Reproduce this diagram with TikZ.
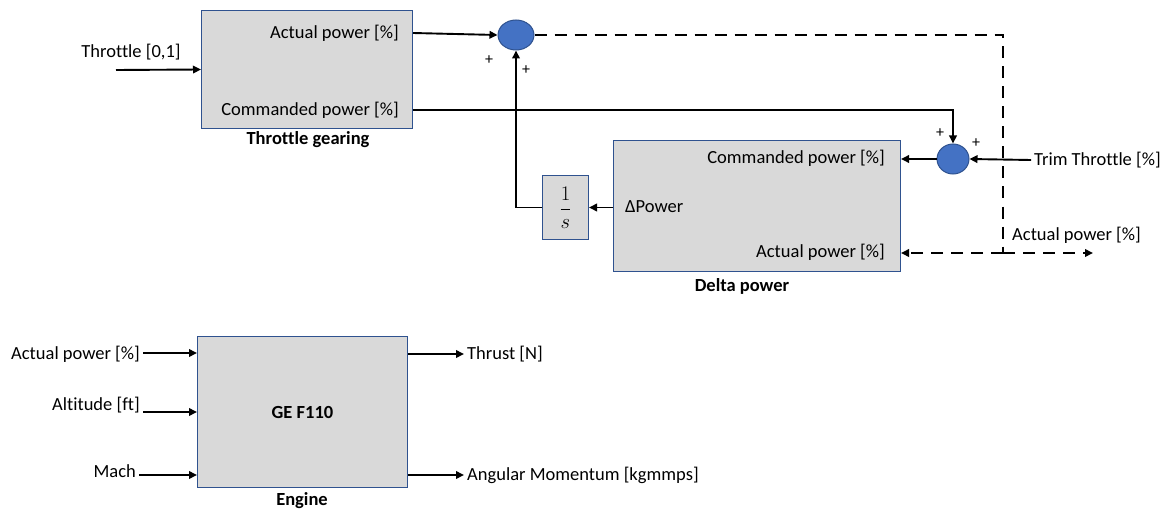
\documentclass[tikz,border=0pt]{standalone}
\usepackage{fontspec}
\setmainfont{Carlito}[Ligatures=NoCommon]
\usetikzlibrary{arrows.meta,shapes.geometric}
\definecolor{boxgray}{HTML}{D9D9D9}
\definecolor{boxedge}{HTML}{2F528F}
\definecolor{sumfill}{HTML}{4472C4}
\tikzset{
  blk/.style={draw=boxedge, fill=boxgray, line width=1pt, anchor=north west, inner sep=0pt},
  sumnode/.style={ellipse, draw=boxedge, fill=sumfill, line width=1pt, minimum width=36pt, minimum height=30pt, inner sep=0pt},
  lbl/.style={font=\fontsize{18.5}{22}\selectfont, inner sep=3pt},
  ttl/.style={font=\fontsize{18.5}{22}\selectfont\bfseries, inner sep=0pt},
  pls/.style={font=\fontsize{16}{18}\selectfont, inner sep=0pt},
  wire/.style={line width=1.9pt, -{Triangle[length=8pt,width=7.5pt]}},
  dwire/.style={line width=1.9pt, dash pattern=on 12pt off 8pt}
}
\begin{document}
\begin{tikzpicture}[x=1pt,y=-1pt]
\useasboundingbox (0,0) rectangle (1174,513);

% Throttle gearing block
\node[blk, minimum width=211pt, minimum height=118pt] (tg) at (201,10) {};
\node[lbl, anchor=east] (tgA) at (402,33) {Actual power [\%]};
\node[lbl, anchor=east] (tgC) at (402,110) {Commanded power [\%]};
\node[ttl] (tgT) at (308,140) {Throttle gearing};
\node[lbl] (thr) at (131,52) {Throttle [0,1]};
\coordinate (thrIn) at (116,70);
\draw[wire] (thrIn) -- (tg.west);

% Upper summing junction
\node[sumnode] (s1) at (516,35) {};
\node[pls] (p1) at (489,60) {+};
\node[pls] (p2) at (526,70) {+};
\draw[wire] (tg.east |- tgA) -- (s1.west);

% Delta power block
\node[blk, minimum width=287pt, minimum height=131pt] (dp) at (613,140) {};
\node[lbl, anchor=east] (dpC) at (888,158) {Commanded power [\%]};
\node[lbl, anchor=west] (dpD) at (622,207) {ΔPower};
\node[lbl, anchor=east] (dpA) at (888,252) {Actual power [\%]};
\node[ttl] (dpT) at (742,286) {Delta power};

% Integrator
\node[blk, minimum width=46pt, minimum height=64pt] (int) at (542,175) {};
\node[font=\fontsize{21}{24}\selectfont, inner sep=0pt] (intT) at (int.center) {$\displaystyle\frac{1}{s}$};

% Lower summing junction
\node[sumnode, minimum width=32pt] (s2) at (953,159) {};
\node[pls] (p3) at (940,133) {+};
\node[pls] (p4) at (976,143) {+};
\node[lbl, anchor=west] (trim) at (1031,160) {Trim Throttle [\%]};
\node[lbl, anchor=west] (outL) at (1009,235) {Actual power [\%]};
\coordinate (corner) at (1003,253);
\coordinate (outEnd) at (1093,253);

% Signal connections
\draw[wire] (tg.east |- tgC) -| (s2.north);
\draw[wire] (trim.west) -- (s2.east);
\draw[wire] (s2.west) -- (dp.east |- s2);
\draw[wire] (dp.west |- int) -- (int.east);
\draw[wire] (int.west) -| (s1.south);
\draw[dwire] (s1.east) -| (corner);
\draw[dwire, -{Triangle[length=8pt,width=7.5pt]}] (corner) -- (dp.east |- corner);
\draw[dwire, -{Triangle[length=8pt,width=7.5pt]}] (corner) -- (outEnd);

% Engine block
\node[blk, minimum width=210pt, minimum height=151pt] (eng) at (197,336) {};
\node[ttl] (engC) at (eng.center) {GE F110};
\node[ttl] (engT) at (302,501) {Engine};
\node[lbl, anchor=east] (eIn1) at (143,354) {Actual power [\%]};
\node[lbl, anchor=east] (eIn2) at (143,405) {Altitude [ft]};
\node[lbl, anchor=east] (eIn3) at (139,471) {Mach};
\node[lbl, anchor=west] (eOut1) at (464,354) {Thrust [N]};
\node[lbl, anchor=west] (eOut2) at (464,475) {Angular Momentum [kgmmps]};
\draw[wire] (eIn1.east |- 0,353) -- (eng.west |- 0,353);
\draw[wire] (eIn2.east |- eng.west) -- (eng.west);
\draw[wire] (eIn3.east |- 0,475) -- (eng.west |- 0,475);
\draw[wire] (eng.east |- eOut1) -- (eOut1.west);
\draw[wire] (eng.east |- eOut2) -- (eOut2.west);
\end{tikzpicture}
\end{document}
